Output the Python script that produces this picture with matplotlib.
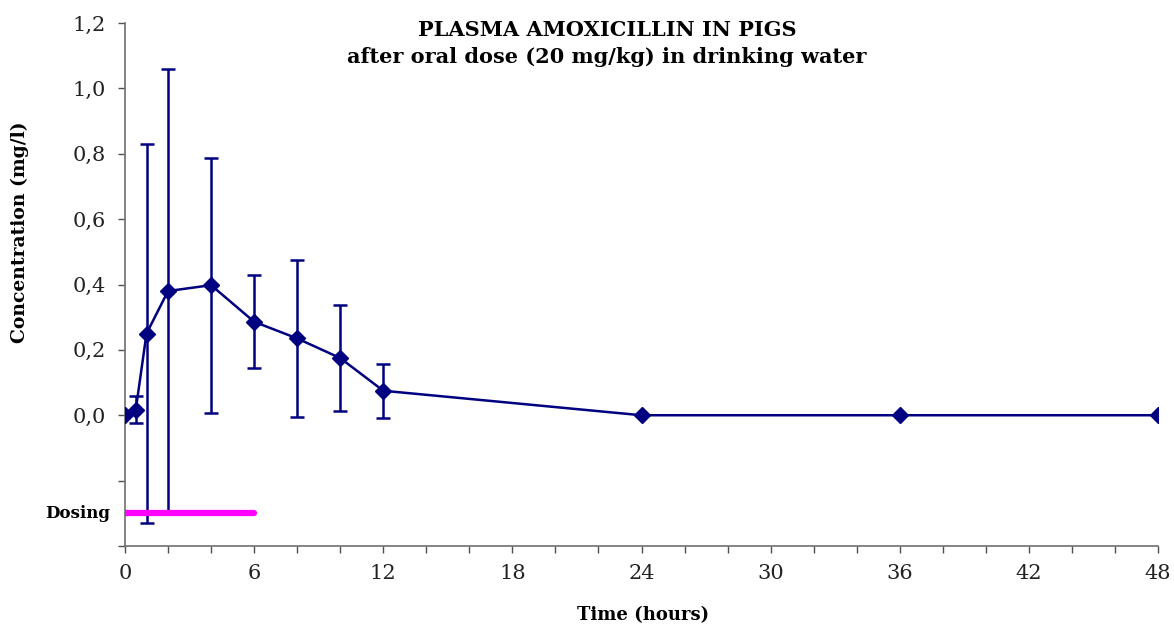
import numpy as np
import matplotlib
matplotlib.use("Agg")
import matplotlib.pyplot as plt
from matplotlib.ticker import MultipleLocator, FixedLocator, FuncFormatter

# Sampling times (hours) and plasma amoxicillin concentration (mg/l), mean and SD
time_h = [0, 0.5, 1, 2, 4, 6, 8, 10, 12, 24, 36, 48]
conc_mean = [0.0, 0.017, 0.25, 0.38, 0.398, 0.286, 0.235, 0.175, 0.075, 0.0, 0.0, 0.0]
conc_sd = [0.0, 0.042, 0.58, 0.68, 0.39, 0.142, 0.24, 0.162, 0.083, 0.0, 0.0, 0.0]

# Drinking-water dosing period (hours)
dosing_start, dosing_end = 0, 6
dosing_level = -0.30

x_ticks = [0, 6, 12, 18, 24, 30, 36, 42, 48]
y_ticks = [0.0, 0.2, 0.4, 0.6, 0.8, 1.0, 1.2]

navy = "#000080"
serif = ["DejaVu Serif"]

fig = plt.figure(figsize=(11.74, 6.25), dpi=100)
ax = fig.add_axes([125 / 1174, 1 - 546 / 625, (1158 - 125) / 1174, (546 - 23) / 625])

t = np.array(time_h)
m = np.array(conc_mean)
s = np.array(conc_sd)
has_err = s > 0

ax.errorbar(t[has_err], m[has_err], yerr=s[has_err], fmt="none", ecolor=navy,
            elinewidth=1.8, capsize=5, capthick=1.8, zorder=2)
ax.plot(t, m, color=navy, linewidth=1.8, marker="D", markersize=8.5,
        markerfacecolor=navy, markeredgecolor=navy, zorder=3)

# Dosing period bar
ax.plot([dosing_start, dosing_end], [dosing_level, dosing_level], color="#FF00FF",
        linewidth=4.5, solid_capstyle="round", zorder=4)

ax.set_xlim(0, 48)
ax.set_ylim(-0.4, 1.2)

ax.xaxis.set_major_locator(FixedLocator(x_ticks))
ax.xaxis.set_minor_locator(MultipleLocator(2))
ax.yaxis.set_major_locator(FixedLocator(list(np.round(np.arange(-0.4, 1.21, 0.2), 1))))
ax.yaxis.set_major_formatter(FuncFormatter(
    lambda v, p: (f"{v:.1f}".replace(".", ",") if v > -0.01 else "")))
ax.xaxis.set_major_formatter(FuncFormatter(lambda v, p: f"{int(round(v))}"))

for sp in ["top", "right"]:
    ax.spines[sp].set_visible(False)
for sp in ["left", "bottom"]:
    ax.spines[sp].set_color("#707070")
    ax.spines[sp].set_linewidth(1.2)

ax.tick_params(axis="both", which="both", direction="out", color="#505050",
               length=5, width=1.0)
ax.tick_params(axis="x", which="major", pad=8)
ax.tick_params(axis="y", which="major", pad=9)
for lab in ax.get_xticklabels() + ax.get_yticklabels():
    lab.set_fontfamily(serif)
    lab.set_fontsize(15)
    lab.set_color("#222222")

fig.text(607 / 1174, 1 - 30 / 625, "PLASMA AMOXICILLIN IN PIGS", ha="center", va="center",
         fontfamily=serif, fontweight="bold", fontsize=15)
fig.text(607 / 1174, 1 - 57 / 625, "after oral dose (20 mg/kg) in drinking water",
         ha="center", va="center", fontfamily=serif, fontweight="bold", fontsize=15)
fig.text(643 / 1174, 1 - 615 / 625, "Time (hours)", ha="center", va="center",
         fontfamily=serif, fontweight="bold", fontsize=13)
fig.text(20 / 1174, 1 - 232 / 625, "Concentration (mg/l)", ha="center", va="center",
         rotation=90, fontfamily=serif, fontweight="bold", fontsize=13.5)
fig.text(110 / 1174, 1 - 513 / 625, "Dosing", ha="right", va="center",
         fontfamily=serif, fontweight="bold", fontsize=12)

fig.savefig("out.png", dpi=100)
